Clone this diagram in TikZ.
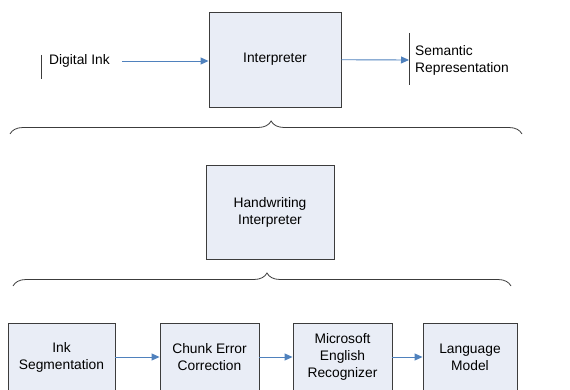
\documentclass[tikz,border=0pt]{standalone}
\usepackage{fontspec}
\setmainfont{Liberation Sans}
\usetikzlibrary{arrows.meta,decorations.pathreplacing}

\definecolor{flowblue}{HTML}{4F81BD}
\definecolor{blockfill}{HTML}{E9EDF6}
\definecolor{blockline}{HTML}{3C3C3C}

\tikzset{
  block/.style={draw=blockline, fill=blockfill, line width=0.9pt, align=center, inner sep=2pt},
  flow/.style={draw=flowblue, line width=0.9pt, -{Triangle[length=8pt,width=7pt]}},
  bar/.style={draw=blockline, line width=0.9pt},
  grouping/.style={draw=blockline, line width=0.8pt, decorate,
    decoration={brace, amplitude=13pt, aspect=0.51}}
}

\begin{document}
\begin{tikzpicture}[x=1pt,y=-1pt,font=\fontsize{13.8}{17}\selectfont]
  \useasboundingbox (0,0) rectangle (570,390);

  % top level
  \node[block, minimum width=132pt, minimum height=95pt] (interp) at (275,59.5) {Interpreter};
  \node[anchor=west, inner sep=0pt] (ink) at (49,61) {Digital Ink};
  \node[anchor=west, inner sep=0pt, align=left] (sem) at (415,60) {Semantic\\Representation};
  \draw[bar] ([xshift=-8pt]ink.west) ++(0,-6) -- ++(0,24);
  \draw[bar] ([xshift=-6pt]sem.west) ++(0,-27) -- ++(0,52);
  \draw[flow] ([xshift=12pt]ink.east) -- (ink.east -| interp.west);
  \draw[flow] (interp) -- ([xshift=-6pt]sem.west);

  \draw[grouping] (10,134) -- (522,134);

  % middle level
  \node[block, minimum width=128pt, minimum height=94pt] (hwi) at (270,212) {Handwriting\\Interpreter};

  \draw[grouping] (13,286) -- (511,286);

  % bottom level
  \node[block, minimum width=107pt, minimum height=68pt] (seg) at (61.5,357) {Ink\\Segmentation};
  \node[block, minimum width=99pt, minimum height=68pt] (chunk) at (209.5,357) {Chunk Error\\Correction};
  \node[block, minimum width=99pt, minimum height=68pt] (reco) at (342.5,357) {Microsoft\\English\\Recognizer};
  \node[block, minimum width=94pt, minimum height=68pt] (lm) at (470,357) {Language\\Model};

  \draw[flow] (seg) -- (chunk);
  \draw[flow] (chunk) -- (reco);
  \draw[flow] (reco) -- (lm);
\end{tikzpicture}
\end{document}
